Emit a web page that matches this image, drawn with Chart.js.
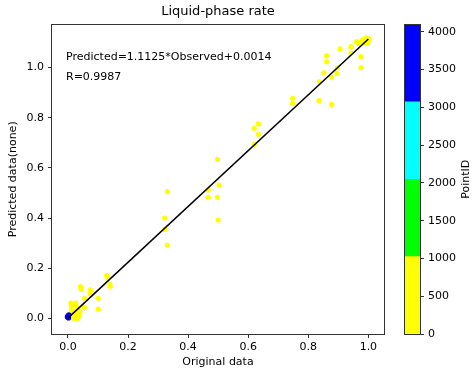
<!DOCTYPE html>
<html lang="en">
<head>
<meta charset="UTF-8">
<title>Liquid-phase rate</title>
<style>
  body { margin: 0; background: #fff; }
  .wrap { position: relative; width: 472px; height: 376px; }
  .wrap canvas { position: absolute; left: 0; top: 0; }
</style>
</head>
<body>
<div class="wrap">
  <canvas id="main" width="472" height="376"></canvas>
  <canvas id="cbar" width="472" height="376"></canvas>
</div>
<script src="https://cdn.jsdelivr.net/npm/chart.js"></script>
<script>
// points coloured by PointID bin (yellow = 0-1024, blue = 3072-4096)
const yellowX = [0.861, 0.861, 0.906, 0.942, 0.942, 0.961, 0.967, 0.982, 0.989, 0.992, 0.996, 0.999, 1.002, 0.986, 0.996, 0.979,
  0.975, 0.975, 0.852, 0.897, 0.895, 0.878, 0.837, 0.836, 0.878, 0.748, 0.748, 0.634, 0.620, 0.634, 0.620, 0.498,
  0.331, 0.503, 0.467, 0.467, 0.497, 0.500, 0.322, 0.322, 0.331,
  0.129, 0.132, 0.140, 0.140, 0.042, 0.044, 0.075, 0.075, 0.055, 0.101, 0.055, 0.101,
  0.010, 0.026, 0.012, 0.029, 0.040, 0.010, 0.029, 0.018, 0.032, 0.007, 0.020, 0.037, 0.013, 0.033, 0.024, 0.005];
const yellowY = [1.046, 1.023, 1.074, 1.057, 1.083, 1.103, 1.096, 1.110, 1.106, 1.118, 1.110, 1.102, 1.114, 1.098, 1.096, 1.106,
  1.043, 0.999, 0.979, 0.999, 0.977, 0.961, 0.943, 0.868, 0.853, 0.877, 0.857, 0.775, 0.758, 0.734, 0.694, 0.634,
  0.505, 0.531, 0.512, 0.483, 0.483, 0.392, 0.400, 0.355, 0.292,
  0.171, 0.161, 0.135, 0.128, 0.127, 0.116, 0.114, 0.098, 0.080, 0.080, 0.044, 0.037,
  0.061, 0.061, 0.047, 0.047, 0.027, 0.021, 0.014, 0.001, 0.000, 0.010, 0.026, 0.010, 0.038, 0.038, 0.004, 0.003];
const blueX = [0.000, 0.002, -0.002, 0.003];
const blueY = [0.010, 0.002, 0.006, 0.014];

// regression line end points
const fitX = [0.0, 1.0];
const fitY = [0.0014, 1.1139];

const xTicks = [0, 0.2, 0.4, 0.6, 0.8, 1.0];
const yTicks = [0, 0.2, 0.4, 0.6, 0.8, 1.0];

// colorbar bins
const cbBins = ['0-1024', '1024-2048', '2048-3072', '3072-4096'];
const cbValues = [1024, 1024, 1024, 1024];
const cbColors = ['#ffff00', '#00ff00', '#00ffff', '#0000ff'];
const cbTicks = [0, 500, 1000, 1500, 2000, 2500, 3000, 3500, 4000];

const eqText = 'Predicted=1.1125*Observed+0.0014';
const rText = 'R=0.9987';

const FONT = '"DejaVu Sans", sans-serif';
Chart.defaults.font.family = FONT;
Chart.defaults.font.size = 11;
Chart.defaults.color = '#000';

const frame = {
  id: 'frame',
  afterDraw(chart) {
    const a = chart.chartArea, c = chart.ctx;
    c.save();
    c.strokeStyle = '#333';
    c.lineWidth = 1;
    c.strokeRect(Math.round(a.left) - 0.5, Math.round(a.top) - 0.5,
      Math.round(a.right) - Math.round(a.left) + 1, Math.round(a.bottom) - Math.round(a.top) + 1);
    c.restore();
  }
};

const notes = {
  id: 'notes',
  afterDraw(chart) {
    const a = chart.chartArea, c = chart.ctx;
    c.save();
    c.font = '11px ' + FONT;
    c.fillStyle = '#000';
    c.textAlign = 'left';
    c.textBaseline = 'alphabetic';
    c.fillText(eqText, a.left + 14, a.top + 35);
    c.fillText(rText, a.left + 14, a.top + 55);
    c.restore();
  }
};

const toPts = (xs, ys) => xs.map((x, i) => ({ x: x, y: ys[i] }));

new Chart(document.getElementById('main'), {
  type: 'scatter',
  data: {
    datasets: [
      { type: 'line', label: 'fit', data: toPts(fitX, fitY), borderColor: '#000', borderWidth: 1.5,
        pointRadius: 0, fill: false, order: 0 },
      { label: 'PointID 3072-4096', data: toPts(blueX, blueY), backgroundColor: '#0000ff',
        borderWidth: 0, pointRadius: 2.6, order: 1 },
      { label: 'PointID 0-1024', data: toPts(yellowX, yellowY), backgroundColor: '#ffff00',
        borderWidth: 0, pointRadius: 2.6, order: 2 }
    ]
  },
  options: {
    responsive: false,
    animation: false,
    devicePixelRatio: 1,
    layout: { padding: { left: 0, right: 88, top: 0, bottom: 0 } },
    plugins: {
      legend: { display: false },
      tooltip: { enabled: false },
      title: {
        display: true,
        text: 'Liquid-phase rate',
        fullSize: false,
        font: { size: 13, weight: 'normal' },
        padding: { top: 4, bottom: 5 },
        color: '#000'
      }
    },
    scales: {
      x: {
        type: 'linear',
        min: -0.053, max: 1.052,
        afterFit: s => { s.height = 42; },
        afterBuildTicks: s => { s.ticks = xTicks.map(v => ({ value: v })); },
        ticks: { padding: 3, callback: v => v.toFixed(1) },
        grid: { drawOnChartArea: false, drawTicks: true, tickLength: 4, tickColor: '#333' },
        border: { display: false },
        title: { display: true, text: 'Original data', padding: { top: 0, bottom: 7 } }
      },
      y: {
        type: 'linear',
        min: -0.062, max: 1.171,
        afterFit: s => { s.width = 52; },
        afterBuildTicks: s => { s.ticks = yTicks.map(v => ({ value: v })); },
        ticks: { padding: 4, callback: v => v.toFixed(1) },
        grid: { drawOnChartArea: false, drawTicks: true, tickLength: 4, tickColor: '#333' },
        border: { display: false },
        title: { display: true, text: 'Predicted data(none)', padding: { top: 7, bottom: 0 } }
      }
    }
  },
  plugins: [frame, notes]
});

const cbLabel = {
  id: 'cbLabel',
  afterDraw(chart) {
    const a = chart.chartArea, c = chart.ctx;
    c.save();
    c.font = '11px ' + FONT;
    c.fillStyle = '#000';
    c.translate(466, (a.top + a.bottom) / 2);
    c.rotate(-Math.PI / 2);
    c.textAlign = 'center';
    c.textBaseline = 'middle';
    c.fillText('PointID', 0, 0);
    c.restore();
  }
};

new Chart(document.getElementById('cbar'), {
  type: 'bar',
  data: {
    labels: ['PointID'],
    datasets: cbBins.map((b, i) => ({
      label: b,
      data: [cbValues[i]],
      backgroundColor: cbColors[i],
      borderWidth: 0,
      barPercentage: 1,
      categoryPercentage: 1
    }))
  },
  options: {
    responsive: false,
    animation: false,
    devicePixelRatio: 1,
    events: [],
    layout: { padding: { left: 405, right: 0, top: 24.6, bottom: 42 } },
    plugins: { legend: { display: false }, tooltip: { enabled: false } },
    scales: {
      x: { display: false, stacked: true },
      y: {
        stacked: true,
        position: 'right',
        min: 0, max: 4096,
        afterFit: s => { s.width = 52; },
        afterBuildTicks: s => { s.ticks = cbTicks.map(v => ({ value: v })); },
        ticks: { padding: 4, callback: v => String(v) },
        grid: { drawOnChartArea: false, drawTicks: true, tickLength: 4, tickColor: '#333' },
        border: { display: false }
      }
    }
  },
  plugins: [frame, cbLabel]
});
</script>
</body>
</html>
